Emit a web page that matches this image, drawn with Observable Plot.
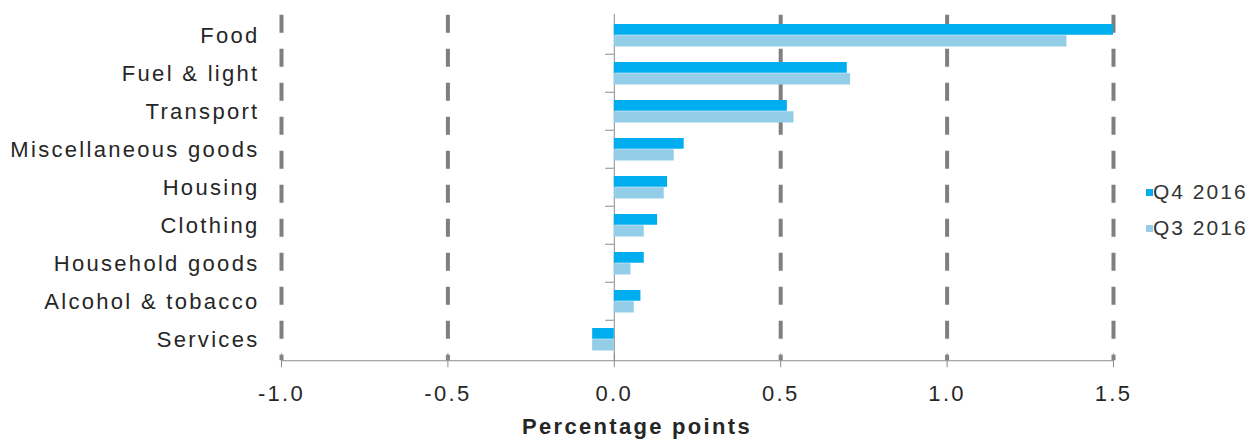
<!DOCTYPE html>
<html>
<head>
<meta charset="utf-8">
<script src="https://cdn.jsdelivr.net/npm/d3@7"></script>
<script src="https://cdn.jsdelivr.net/npm/@observablehq/plot@0.6"></script>
<style>
  body { margin: 0; background: #fff; }
  #chart { position: relative; width: 1259px; height: 444px; font-family: "Liberation Sans", Arial, sans-serif; }
  #chart svg text { letter-spacing: 2.3px; }
  .legend { position: absolute; left: 1146px; top: 0; }
  .legend .item { position: absolute; left: 0; white-space: nowrap; font-size: 21px; line-height: 21px; letter-spacing: 2px; color: #333; }
  .legend .swatch { position: absolute; left: 0; width: 7px; height: 7px; }
  .legend .label { position: absolute; left: 7px; }
</style>
</head>
<body>
<div id="chart"></div>
<script>
// Contribution to change, by spending category (percentage points)
const categories = ["Food", "Fuel & light", "Transport", "Miscellaneous goods", "Housing", "Clothing", "Household goods", "Alcohol & tobacco", "Services"];
const q4 = [1.50, 0.70, 0.52, 0.21, 0.16, 0.13, 0.09, 0.08, -0.065];
const q3 = [1.36, 0.71, 0.54, 0.18, 0.15, 0.09, 0.05, 0.06, -0.065];
const seriesNames = ["Q4 2016", "Q3 2016"];
const seriesColors = ["#00aeef", "#93cde8"];
const xTicks = [-1, -0.5, 0, 0.5, 1, 1.5];
const gridTicks = [-1, -0.5, 0.5, 1, 1.5];
const axisTitle = "Percentage points";

const rowsQ4 = categories.map((c, i) => ({category: c, series: seriesNames[0], value: q4[i]}));
const rowsQ3 = categories.map((c, i) => ({category: c, series: seriesNames[1], value: q3[i]}));

const axisGrey = "#8c8c8c";
const textColor = "#262626";

const chart = Plot.plot({
  width: 1259,
  height: 444,
  marginLeft: 281,
  marginRight: 146,
  marginTop: 13.75,
  marginBottom: 83.75,
  style: {fontFamily: "Liberation Sans, Arial, sans-serif", fontSize: "22px", color: textColor, background: "transparent", overflow: "visible"},
  x: {domain: [-1, 1.5]},
  y: {domain: categories, padding: 0},
  marks: [
    // dashed vertical gridlines
    Plot.ruleX(gridTicks, {stroke: "#7f7f7f", strokeWidth: 4, strokeDasharray: "18,16", strokeDashoffset: -1}),
    // zero line with small separators between categories
    Plot.ruleX([0], {stroke: axisGrey, strokeWidth: 1}),
    Plot.ruleY(categories.slice(1), {y: d => d, x1: 0, x2: -0.026, stroke: axisGrey, dy: -19.25}),
    // paired bars: latest quarter on top, previous quarter below
    Plot.barX(rowsQ4, {y: "category", x: "value", fill: seriesColors[0], insetTop: 8, insetBottom: 19.25}),
    Plot.barX(rowsQ3, {y: "category", x: "value", fill: seriesColors[1], insetTop: 19.25, insetBottom: 7.5}),
    // bottom axis line with ticks crossing it
    Plot.frame({anchor: "bottom", stroke: axisGrey}),
    Plot.axisX(xTicks, {tickSize: 14, dy: -7, tickFormat: () => "", label: null, stroke: axisGrey}),
    Plot.axisX(xTicks, {tickSize: 0, tickPadding: 25, tickFormat: d => d.toFixed(1), label: null, fill: textColor}),
    Plot.axisY({tickSize: 0, tickPadding: 22, label: null, fill: textColor}),
    Plot.text([axisTitle], {frameAnchor: "bottom", dx: -60.5, dy: 66.4, lineAnchor: "middle", fontWeight: "bold", fontSize: 22, fill: textColor})
  ]
});

const root = document.getElementById("chart");
root.appendChild(chart);

// vertical legend on the right
const legend = document.createElement("div");
legend.className = "legend";
const baselines = [198.3, 235];
seriesNames.forEach((name, i) => {
  const item = document.createElement("div");
  item.className = "item";
  item.style.top = (baselines[i] - 17.8) + "px";
  const sw = document.createElement("span");
  sw.className = "swatch";
  sw.style.background = seriesColors[i];
  sw.style.top = "8px";
  const lb = document.createElement("span");
  lb.className = "label";
  lb.textContent = name;
  item.appendChild(sw);
  item.appendChild(lb);
  legend.appendChild(item);
});
root.appendChild(legend);
</script>
</body>
</html>
